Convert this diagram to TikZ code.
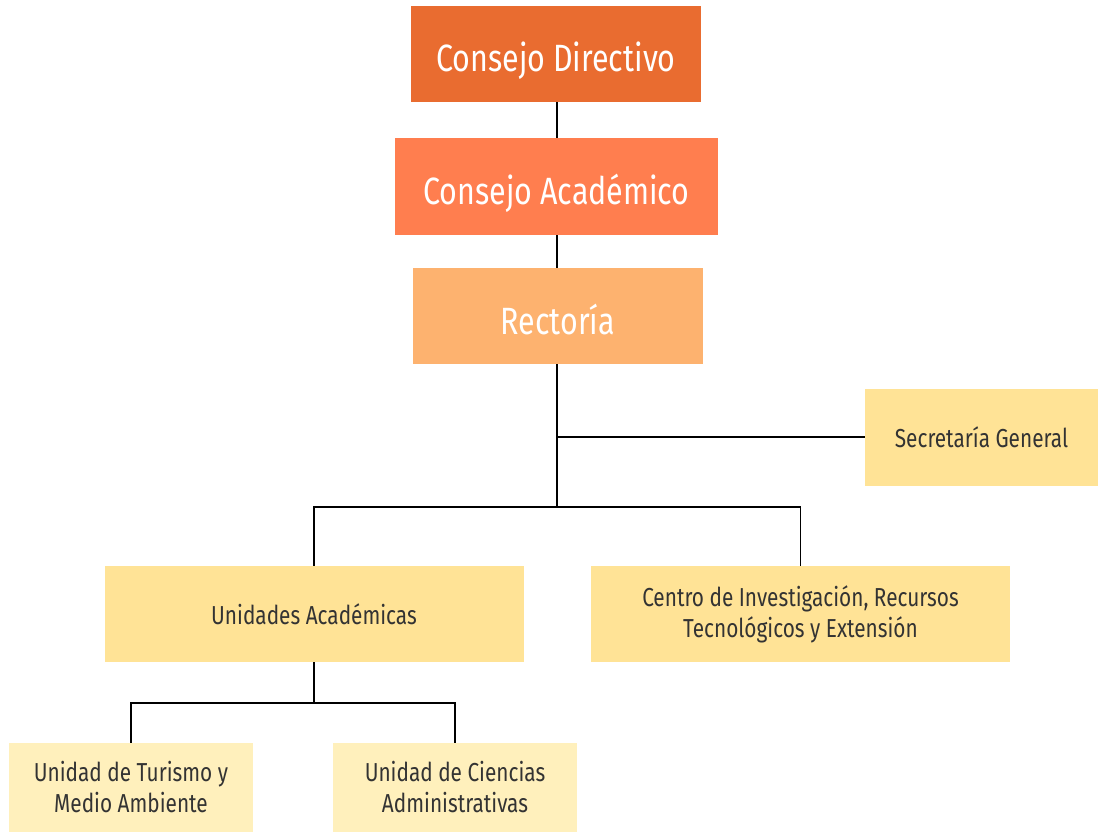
\documentclass[tikz,border=0pt]{standalone}
\usepackage{fontspec}
\setmainfont{Fira Sans}[FakeStretch=0.8]
\usepackage{color}

\definecolor{cdir}{HTML}{E96C30}
\definecolor{cacad}{HTML}{FF7E4F}
\definecolor{crect}{HTML}{FDB26F}
\definecolor{cunit}{HTML}{FFE396}
\definecolor{csub}{HTML}{FFF0BC}
\definecolor{ctext}{HTML}{333333}

\begin{document}
\begin{tikzpicture}[%
      x=1pt, y=-1pt,
      big/.style={minimum width=290pt, minimum height=96pt, inner sep=0pt,
        text height=40pt, text depth=4pt,
        text=white, font=\fontsize{38}{44}\selectfont},
      small/.style={minimum width=419pt, minimum height=96pt, inner sep=0pt,
        fill=cunit, text=ctext, align=center, font=\fontsize{26}{31}\selectfont},
      sub/.style={small, minimum width=244pt, minimum height=89pt, fill=csub},
      link/.style={draw=black, line width=1.3pt},
      ]
      \useasboundingbox (0,0) rectangle (1098,832);

      \node [big, fill=cdir] (dir) at (556,54) {Consejo Directivo};
      \node [big, fill=cacad, minimum width=323pt, minimum height=97pt] (acad) at (556.5,186.5) {Consejo Académico};
      \node [big, fill=crect] (rect) at (558,316) {Rectoría};

      \node [small, minimum width=233pt, minimum height=97pt] (secr) at (981.5,437.5) {Secretaría General};
      \node [small] (unid) at (314,614) {Unidades Académicas};
      \node [small] (cent) at (800.5,614) {Centro de Investigación, Recursos\\Tecnológicos y Extensión};

      \node [sub] (tur) at (131,787.5) {Unidad de Turismo y\\Medio Ambiente};
      \node [sub] (cien) at (455,787.5) {Unidad de Ciencias\\Administrativas};

      \coordinate (jsec) at (557,437);
      \coordinate (jmid) at (557,507);
      \coordinate (junid) at (314,703);

      \draw [link] (557,0 |- dir.south) -- (557,0 |- acad.north);
      \draw [link] (557,0 |- acad.south) -- (557,0 |- rect.north);
      \draw [link] (557,0 |- rect.south) -- (jmid);
      \draw [link] (jsec) -- (jsec -| secr.west);
      \draw [link] (unid.north) |- (jmid) -| (cent.north);
      \draw [link] (unid.south) -- (junid);
      \draw [link] (tur.north) |- (junid) -| (cien.north);
\end{tikzpicture}
\end{document}
